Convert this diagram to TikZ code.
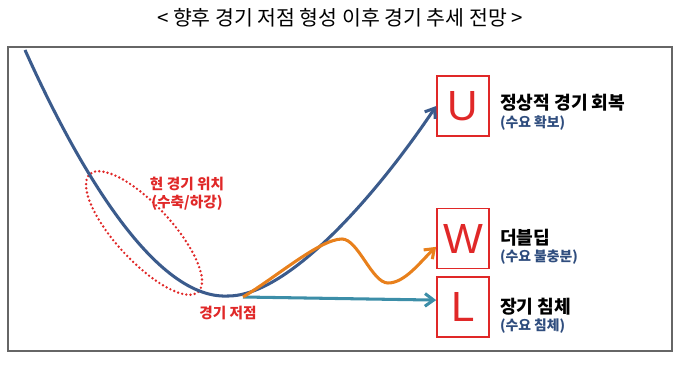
\documentclass[tikz,border=0pt]{standalone}
\usepackage{fontspec}
\setmainfont{Noto Sans CJK KR}
\newfontfamily\letterfont{Liberation Sans}
\usetikzlibrary{arrows.meta}
\usetikzlibrary{positioning}
\definecolor{curveblue}{HTML}{3B5B8C}
\definecolor{diporange}{HTML}{E8801C}
\definecolor{lowteal}{HTML}{3C8EA8}
\definecolor{markred}{HTML}{E02828}
\definecolor{subblue}{HTML}{2F4D7E}
\tikzset{
	markbox/.style={
		rectangle,
		draw=markred,
		line width=1.4pt,
		minimum width=15.6mm,
		minimum height=18mm,
		inner sep=0pt,
		text=markred,
		font=\letterfont\fontsize{36}{36}\selectfont,
	},
	headtxt/.style={
		font=\bfseries\fontsize{15.5}{17}\selectfont,
		inner sep=0pt,
	},
	subtxt/.style={
		font=\bfseries\fontsize{11.8}{13}\selectfont,
		text=subblue,
		inner sep=0pt,
	},
	redtxt/.style={
		font=\bfseries\fontsize{12.5}{15}\selectfont,
		text=markred,
		inner sep=0pt,
		align=center,
	},
	trend/.style={
		line width=2.6pt,
		->,
	},
}

\begin{document}
\begin{tikzpicture}[x=0.3mm,y=-0.3mm,>={Straight Barb[length=2.6mm,width=3.8mm]}]
	
	\useasboundingbox (0,0) rectangle (680,365);
	
	\node[font=\fontsize{17.5}{19}\selectfont] (TITLE) at (340,18)
	{< 향후 경기 저점 형성 이후 경기 추세 전망 >};
	
	\draw[black!60, line width=0.9pt] (8,47) rectangle (672,351);
	
	\node[markbox] (U) at (463,106) {U};
	
	\node[markbox,
	below=21.3mm of U] (W) {W};
	
	\node[markbox,
	below=2.1mm of W] (L) {L};
	
	\node[headtxt,
	right=3mm of U,
	yshift=0.9mm] (UTXT) {정상적 경기 회복};
	\node[subtxt,
	below=1.1mm of UTXT.south west,
	anchor=north west] (USUB) {(수요 확보)};
	
	\node[headtxt,
	right=3mm of W,
	yshift=0.3mm] (WTXT) {더블딥};
	\node[subtxt,
	below=1.1mm of WTXT.south west,
	anchor=north west] (WSUB) {(수요 불충분)};
	
	\node[headtxt,
	right=3mm of L,
	yshift=0.3mm] (LTXT) {장기 침체};
	\node[subtxt,
	below=1.1mm of LTXT.south west,
	anchor=north west] (LSUB) {(수요 침체)};
	
	\coordinate (TOP) at (25,50);
	\coordinate (BOTTOM) at (228,296);
	\coordinate (START) at (243,297);
	
	\node[redtxt] (NOW) at (187,194) {현 경기 위치\\(수축/하강)};
	\node[redtxt,
	below=3mm of BOTTOM] (TROUGH) {경기 저점};
	
	% current position
	\draw[markred, line width=2.3pt, line cap=round, dash pattern=on 0pt off 3.6pt,
	rotate around={-47.3:(144,233)}] (144,233) ellipse [x radius=80, y radius=28];
	
	\draw[trend, curveblue] (TOP) .. controls (70,150) and (150,300) .. (BOTTOM)
	.. controls (290,296) and (380,190) .. (U.west);
	\draw[trend, lowteal] (START) -- (L.165);
	\draw[trend, diporange] (START) .. controls (275,278) and (320,239) .. (342,239)
	.. controls (358,239) and (372,283) .. (388,283)
	.. controls (405,283) and (420,262) .. (W.197);
	
\end{tikzpicture}
\end{document}
